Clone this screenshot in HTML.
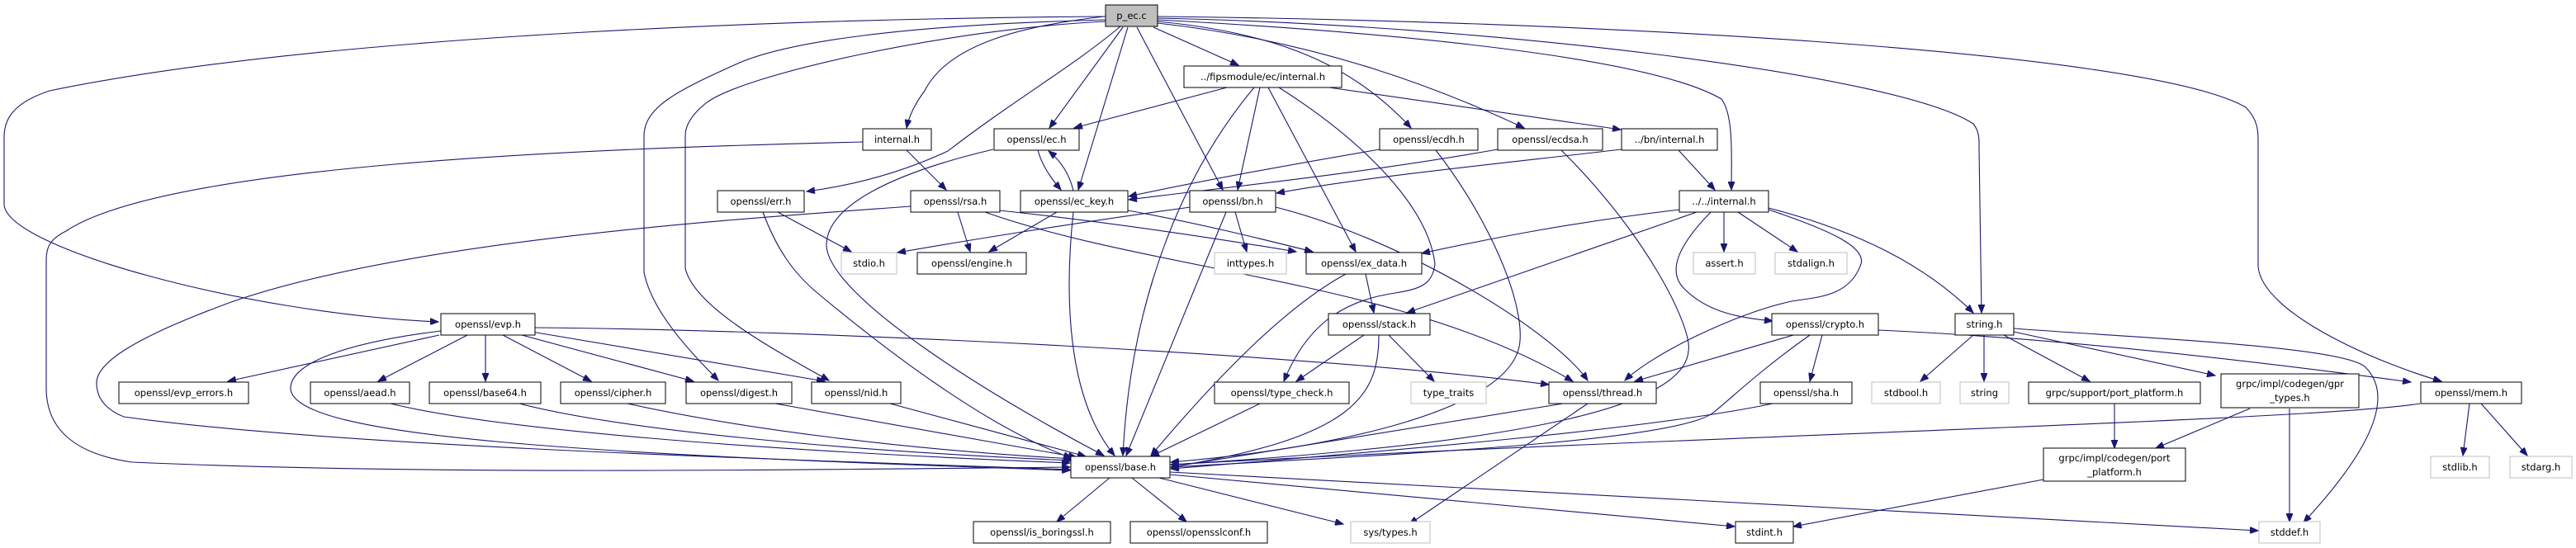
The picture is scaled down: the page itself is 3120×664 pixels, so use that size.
<!DOCTYPE html>
<html><head><meta charset="utf-8"><style>
html,body{margin:0;padding:0;background:#fff;}
svg{display:block}
text{font-family:"DejaVu Sans","Liberation Sans",sans-serif;font-size:11.5px;fill:#000;text-anchor:middle}
.e{fill:none;stroke:#191970;stroke-width:1.1}
.n{fill:#fff;stroke:#000;stroke-width:1}
.g{fill:#fff;stroke:#bfbfbf;stroke-width:1}
</style></head><body>
<svg width="3120" height="664" viewBox="0 0 3120 664" xmlns="http://www.w3.org/2000/svg">
<defs><marker id="a" markerUnits="userSpaceOnUse" markerWidth="11" markerHeight="8" refX="10" refY="4" orient="auto"><path d="M0,0 L10,4 L0,8 z" fill="#191970" stroke="#191970"/></marker></defs>
<g class="e" marker-end="url(#a)">
<!-- p_ec.c -->
<path d="M1339,20 C1000,22 400,40 60,110 C15,125 5,145 5,166 L5,247 C5,300 300,380 531,390"/>
<path d="M1339,24 C1100,30 950,50 889,79 C820,110 780,130 780,165 L780,330 C790,380 840,430 870,461"/>
<path d="M1339,26 C1150,35 900,90 855,125 C830,145 830,160 830,165 L830,325 C840,370 930,420 1004,461"/>
<path d="M1337,20 C1250,30 1150,50 1120,110 C1105,130 1100,145 1098,155"/>
<path d="M1357,32 C1300,80 1230,120 1148,183 C1090,210 1030,225 977,232"/>
<path d="M1360,33 L1271,155"/>
<path d="M1366,33 L1306,230"/>
<path d="M1377,33 L1481,230"/>
<path d="M1397,33 L1500,79"/>
<path d="M1402,26 C1550,40 1640,80 1709,155"/>
<path d="M1402,28 C1600,50 1750,110 1846,155"/>
<path d="M1402,24 C1700,40 2000,70 2085,120 C2100,140 2097,190 2097,230"/>
<path d="M1402,22 C1800,30 2300,90 2390,150 C2398,160 2397,170 2397,180 L2400,379"/>
<path d="M1402,20 C1900,25 2600,60 2720,130 C2735,145 2735,160 2735,170 L2735,323 C2740,380 2880,440 2957,462"/>
<!-- fips -->
<path d="M1486,106 L1301,155"/>
<path d="M1526,106 L1499,230"/>
<path d="M1519,106 C1440,200 1370,350 1360,552"/>
<path d="M1536,106 L1642,305"/>
<path d="M1549,106 C1650,170 1730,250 1738,320 C1735,345 1720,350 1690,355 C1620,365 1580,400 1555,462"/>
<path d="M1610,106 L1963,157"/>
<!-- internal.h -->
<path d="M1045,172 C700,180 200,200 80,280 C60,290 56,300 56,315 L56,470 C56,520 90,550 160,560 C500,575 900,570 1296,566"/>
<path d="M1098,182 L1146,230"/>
<!-- ec.h / ec_key -->
<path d="M1257,182 C1262,200 1272,215 1285,230"/>
<path d="M1300,231 C1295,210 1285,195 1270,183"/>
<path d="M1203,181 C1080,210 1000,250 1001,298 C1005,360 1200,480 1337,552"/>
<path d="M1280,257 L1198,305"/>
<path d="M1366,255 C1450,270 1530,290 1590,305"/>
<path d="M1300,257 C1290,350 1290,480 1350,552"/>
<!-- rsa -->
<path d="M1103,250 C900,265 500,290 280,366 C160,410 117,440 117,464 C117,480 125,495 150,505 C400,540 900,555 1296,569"/>
<path d="M1160,257 L1175,305"/>
<path d="M1211,255 C1350,270 1480,290 1570,305"/>
<path d="M1193,257 C1400,330 1700,340 1905,462"/>
<!-- err -->
<path d="M924,257 C940,300 960,330 990,355 C1080,430 1200,520 1298,555"/>
<path d="M942,257 L1031,305"/>
<!-- bn -->
<path d="M1442,251 C1300,270 1150,295 1087,306"/>
<path d="M1496,257 L1510,305"/>
<path d="M1485,257 L1364,552"/>
<path d="M1545,251 C1700,290 1880,400 1923,461"/>
<!-- bn internal -->
<path d="M1964,181 C1800,200 1650,215 1546,234"/>
<path d="M2033,182 L2077,230"/>
<!-- ecdh/ecdsa -->
<path d="M1671,181 C1560,200 1450,220 1367,238"/>
<path d="M1739,182 C1800,260 1845,360 1841,413 C1835,500 1600,545 1418,560"/>
<path d="M1814,181 C1650,210 1500,225 1367,242"/>
<path d="M1891,182 C2000,290 2050,400 2045,425 C2040,500 1800,540 1418,563"/>
<!-- ../../internal -->
<path d="M2034,254 C1900,270 1800,290 1722,307"/>
<path d="M2055,257 L1704,379"/>
<path d="M2088,257 L2088,305"/>
<path d="M2105,257 L2177,305"/>
<path d="M2072,257 C2030,300 2020,330 2040,350 C2070,380 2110,385 2147,389"/>
<path d="M2142,254 C2220,280 2260,300 2254,320 C2240,360 2200,360 2170,365 C2100,380 2000,430 1968,461"/>
<path d="M2142,252 C2250,280 2330,320 2390,379"/>
<!-- ex_data -->
<path d="M1654,332 L1664,379"/>
<path d="M1630,332 C1560,370 1480,450 1394,552"/>
<!-- stack -->
<path d="M1652,406 L1570,462"/>
<path d="M1682,406 L1737,462"/>
<path d="M1670,406 C1670,480 1640,530 1418,566"/>
<!-- evp -->
<path d="M532,406 L276,462"/>
<path d="M566,406 L458,462"/>
<path d="M588,406 L588,462"/>
<path d="M609,406 L716,462"/>
<path d="M632,406 L840,462"/>
<path d="M644,402 L999,462"/>
<path d="M648,397 C1000,400 1600,430 1876,466"/>
<path d="M534,401 C420,415 350,440 352,472 C360,530 700,550 1296,570"/>
<!-- row6 to base -->
<path d="M473,489 C600,520 900,545 1296,561"/>
<path d="M629,489 C750,520 1000,545 1298,558"/>
<path d="M760,489 C900,520 1100,545 1300,556"/>
<path d="M939,489 L1304,554"/>
<path d="M1078,489 L1315,553"/>
<path d="M1526,489 L1394,553"/>
<path d="M1893,489 L1418,566"/>
<path d="M1923,489 L1707,635"/>
<!-- crypto -->
<path d="M2172,406 L1980,462"/>
<path d="M2207,406 L2192,462"/>
<path d="M2192,406 C2130,450 2100,480 2075,500 C2030,535 1700,550 1418,566"/>
<path d="M2275,400 C2500,410 2750,440 2920,463"/>
<path d="M2147,489 C2000,520 1700,545 1418,568"/>
<!-- string.h -->
<path d="M2390,406 L2326,462"/>
<path d="M2403,406 L2403,462"/>
<path d="M2427,406 L2531,462"/>
<path d="M2439,402 L2683,455"/>
<path d="M2439,398 C2600,410 2840,420 2865,445 C2890,470 2895,520 2790,633"/>
<!-- grpc -->
<path d="M2725,495 L2611,543"/>
<path d="M2773,495 L2773,632"/>
<path d="M2561,489 L2561,543"/>
<path d="M2475,581 L2172,638"/>
<!-- mem -->
<path d="M2931,489 C2800,510 2000,530 1418,563"/>
<path d="M2991,489 L2983,552"/>
<path d="M3005,489 L3061,552"/>
<!-- base -->
<path d="M1344,579 L1280,632"/>
<path d="M1371,579 L1437,632"/>
<path d="M1404,579 L1627,635"/>
<path d="M1417,575 L2101,638"/>
<path d="M1417,572 L2735,643"/>
</g>
<g>
<rect class="n" x="1339" y="6" width="63" height="26" style="fill:#bfbfbf"/><text x="1370.5" y="23">p_ec.c</text>
<rect class="n" x="1434" y="80" width="191" height="26"/><text x="1529.5" y="97">../fipsmodule/ec/internal.h</text>
<rect class="n" x="1045" y="156" width="83" height="26"/><text x="1086.5" y="173">internal.h</text>
<rect class="n" x="1204" y="156" width="103" height="26"/><text x="1255.5" y="173">openssl/ec.h</text>
<rect class="n" x="1671" y="156" width="119" height="26"/><text x="1730.5" y="173">openssl/ecdh.h</text>
<rect class="n" x="1814" y="156" width="127" height="26"/><text x="1877.5" y="173">openssl/ecdsa.h</text>
<rect class="n" x="1964" y="156" width="116" height="26"/><text x="2022" y="173">../bn/internal.h</text>
<rect class="n" x="869" y="231" width="105" height="26"/><text x="921.5" y="248">openssl/err.h</text>
<rect class="n" x="1103" y="231" width="108" height="26"/><text x="1157" y="248">openssl/rsa.h</text>
<rect class="n" x="1236" y="231" width="130" height="26"/><text x="1301" y="248">openssl/ec_key.h</text>
<rect class="n" x="1441" y="231" width="104" height="26"/><text x="1493" y="248">openssl/bn.h</text>
<rect class="n" x="2034" y="231" width="108" height="26"/><text x="2088" y="248">../../internal.h</text>
<rect class="g" x="1019" y="306" width="67" height="26"/><text x="1052.5" y="323">stdio.h</text>
<rect class="n" x="1111" y="306" width="132" height="26"/><text x="1177" y="323">openssl/engine.h</text>
<rect class="g" x="1471" y="306" width="87" height="26"/><text x="1514.5" y="323">inttypes.h</text>
<rect class="n" x="1582" y="306" width="140" height="26"/><text x="1652" y="323">openssl/ex_data.h</text>
<rect class="g" x="2051" y="306" width="75" height="26"/><text x="2088.5" y="323">assert.h</text>
<rect class="g" x="2150" y="306" width="87" height="26"/><text x="2193.5" y="323">stdalign.h</text>
<rect class="n" x="534" y="380" width="114" height="26"/><text x="591" y="397">openssl/evp.h</text>
<rect class="n" x="1609" y="380" width="123" height="26"/><text x="1670.5" y="397">openssl/stack.h</text>
<rect class="n" x="2146" y="380" width="129" height="26"/><text x="2210.5" y="397">openssl/crypto.h</text>
<rect class="n" x="2368" y="380" width="71" height="26"/><text x="2403.5" y="397">string.h</text>
<rect class="n" x="144" y="463" width="157" height="26"/><text x="222.5" y="480">openssl/evp_errors.h</text>
<rect class="n" x="376" y="463" width="120" height="26"/><text x="436" y="480">openssl/aead.h</text>
<rect class="n" x="520" y="463" width="135" height="26"/><text x="587.5" y="480">openssl/base64.h</text>
<rect class="n" x="679" y="463" width="127" height="26"/><text x="742.5" y="480">openssl/cipher.h</text>
<rect class="n" x="831" y="463" width="128" height="26"/><text x="895" y="480">openssl/digest.h</text>
<rect class="n" x="983" y="463" width="108" height="26"/><text x="1037" y="480">openssl/nid.h</text>
<rect class="n" x="1471" y="463" width="163" height="26"/><text x="1552.5" y="480">openssl/type_check.h</text>
<rect class="g" x="1709" y="463" width="91" height="26"/><text x="1754.5" y="480">type_traits</text>
<rect class="n" x="1876" y="463" width="130" height="26"/><text x="1941" y="480">openssl/thread.h</text>
<rect class="n" x="2132" y="463" width="111" height="26"/><text x="2187.5" y="480">openssl/sha.h</text>
<rect class="g" x="2267" y="463" width="83" height="26"/><text x="2308.5" y="480">stdbool.h</text>
<rect class="g" x="2374" y="463" width="59" height="26"/><text x="2403.5" y="480">string</text>
<rect class="n" x="2457" y="463" width="208" height="26"/><text x="2561" y="480">grpc/support/port_platform.h</text>
<rect class="n" x="2690" y="453" width="167" height="41"/><text x="2773.5" y="469">grpc/impl/codegen/gpr</text><text x="2773.5" y="486">_types.h</text>
<rect class="n" x="2932" y="463" width="122" height="26"/><text x="2993" y="480">openssl/mem.h</text>
<rect class="n" x="1297" y="553" width="120" height="26"/><text x="1357" y="570">openssl/base.h</text>
<rect class="n" x="2475" y="543" width="172" height="40"/><text x="2561" y="559">grpc/impl/codegen/port</text><text x="2561" y="576">_platform.h</text>
<rect class="g" x="2944" y="553" width="71" height="26"/><text x="2979.5" y="570">stdlib.h</text>
<rect class="g" x="3040" y="553" width="75" height="26"/><text x="3077.5" y="570">stdarg.h</text>
<rect class="n" x="1179" y="632" width="166" height="26"/><text x="1262" y="649">openssl/is_boringssl.h</text>
<rect class="n" x="1369" y="632" width="166" height="26"/><text x="1452" y="649">openssl/opensslconf.h</text>
<rect class="g" x="1636" y="632" width="96" height="26"/><text x="1684" y="649">sys/types.h</text>
<rect class="n" x="2102" y="632" width="70" height="26"/><text x="2137" y="649">stdint.h</text>
<rect class="g" x="2736" y="632" width="74" height="26"/><text x="2773" y="649">stddef.h</text>
</g>
</svg>
</body></html>
